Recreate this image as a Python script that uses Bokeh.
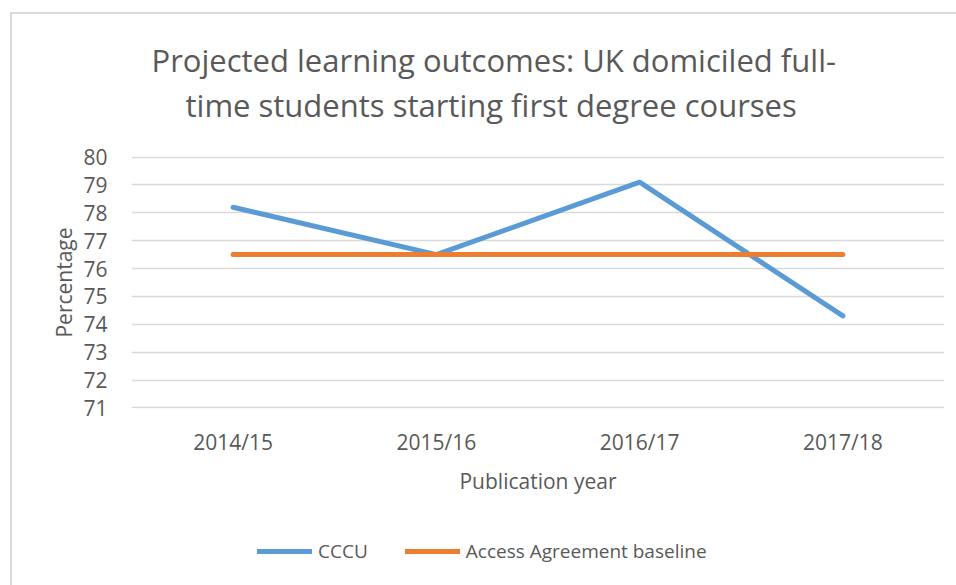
from bokeh.plotting import figure
from bokeh.layouts import column
from bokeh.models import Title, Legend, LegendItem, FixedTicker, ColumnDataSource
from bokeh.embed import file_html
from bokeh.resources import INLINE

years = ["2014/15", "2015/16", "2016/17", "2017/18"]
cccu = [78.2, 76.5, 79.1, 74.3]
baseline = [76.5, 76.5, 76.5, 76.5]
y_ticks = [71, 72, 73, 74, 75, 76, 77, 78, 79, 80]

FONT = "Open Sans"
TXT = "#595959"
BLUE = "#5b9bd5"
ORANGE = "#ed7d31"

p = figure(width=944, height=515, x_range=years, y_range=(70.98, 80.02),
           output_backend="svg", toolbar_location=None,
           min_border_left=119, min_border_right=12, min_border_top=142,
           min_border_bottom=121)
p.x_range.range_padding = 0
p.outline_line_color = None

src = ColumnDataSource(dict(x=years, cccu=cccu, base=baseline))
p.line("x", "cccu", source=src, line_color=BLUE, line_width=5,
       line_cap="round", line_join="round")
p.line("x", "base", source=src, line_color=ORANGE, line_width=5,
       line_cap="round", line_join="round")

p.yaxis.ticker = FixedTicker(ticks=y_ticks)
for ax in (p.xaxis[0], p.yaxis[0]):
    ax.axis_line_color = None
    ax.major_tick_line_color = None
    ax.minor_tick_line_color = None
    ax.major_label_text_font = FONT
    ax.major_label_text_font_size = "21px"
    ax.major_label_text_color = TXT
    ax.axis_label_text_font = FONT
    ax.axis_label_text_font_size = "21px"
    ax.axis_label_text_color = TXT
    ax.axis_label_text_font_style = "normal"
p.yaxis.axis_label = "Percentage"
p.xaxis.axis_label = "Publication year"
p.yaxis.major_label_standoff = 18
p.yaxis.axis_label_standoff = 2
p.xaxis.major_label_standoff = 13
p.xaxis.axis_label_standoff = 8

p.xgrid.grid_line_color = None
p.ygrid.grid_line_color = "#d9d9d9"
p.ygrid.grid_line_width = 1.5

spacer = Title(text=" ", text_font_size="29px", standoff=0)
t2 = Title(text="time students starting first degree courses", align="left",
           text_font=FONT, text_font_size="31px", text_color=TXT,
           text_font_style="normal", offset=54, standoff=-7)
t1 = Title(text="Projected learning outcomes: UK domiciled full-", align="left",
           text_font=FONT, text_font_size="31px", text_color=TXT,
           text_font_style="normal", offset=20)
p.add_layout(spacer, "above")
p.add_layout(t2, "above")
p.add_layout(t1, "above")

# legend strip below the chart (its renderers hold no visible data)
lg = figure(width=944, height=56, x_range=(0, 1), y_range=(0, 1),
            output_backend="svg", toolbar_location=None,
            min_border_left=0, min_border_right=0, min_border_top=0,
            min_border_bottom=0)
lg.axis.visible = False
lg.grid.visible = False
lg.outline_line_color = None
nan = float("nan")
l1 = lg.line(x=[nan], y=[nan], line_color=BLUE, line_width=5, line_cap="round")
l2 = lg.line(x=[nan], y=[nan], line_color=ORANGE, line_width=5, line_cap="round")
legend = Legend(items=[LegendItem(label="CCCU", renderers=[l1]),
                       LegendItem(label="Access Agreement baseline", renderers=[l2])],
                orientation="horizontal", location=(126, 21),
                label_text_font=FONT, label_text_font_size="19px",
                label_text_color=TXT, glyph_width=55, label_standoff=6,
                spacing=37, border_line_color=None, background_fill_alpha=0,
                margin=0, padding=0)
lg.add_layout(legend, "center")

layout = column(p, lg, spacing=0,
                styles={"margin-left": "10px", "margin-top": "12px",
                        "border-left": "2px solid #d9d9d9",
                        "border-top": "2px solid #d9d9d9"})

open("out.html", "w").write(file_html(layout, INLINE))
